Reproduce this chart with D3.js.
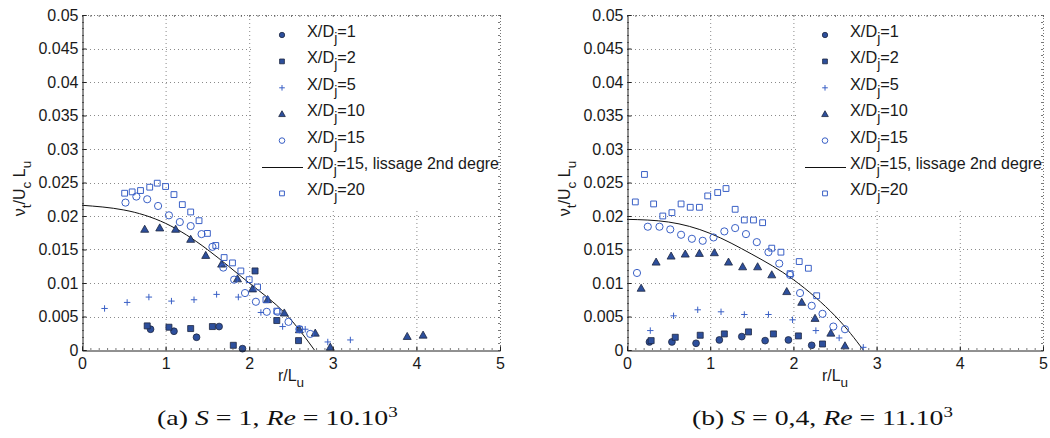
<!DOCTYPE html>
<html>
<head>
<meta charset="utf-8">
<script src="https://cdn.jsdelivr.net/npm/d3@7"></script>
<style>
  body { margin: 0; background: #fff; }
  svg { display: block; }
</style>
</head>
<body>
<svg id="fig" width="1050" height="438"></svg>
<script>
// ---- axis ticks ----
const xTicks = [0, 1, 2, 3, 4, 5];
const xTickLabels = ["0", "1", "2", "3", "4", "5"];
const yTicks = [0, 0.005, 0.01, 0.015, 0.02, 0.025, 0.03, 0.035, 0.04, 0.045, 0.05];
const yTickLabels = ["0", "0.005", "0.01", "0.015", "0.02", "0.025", "0.03", "0.035", "0.04", "0.045", "0.05"];

// ---- legend entries (X/D_j = ...) ----
const legendValues = ["1", "2", "5", "10", "15", "15, lissage 2nd degre", "20"];

// ---- panel (a): S = 1, Re = 10.10^3  — [r/Lu, nu_t/(Uc Lu)] ----
const a_xd1 = [[0.82,0.0031],[1.10,0.0028],[1.37,0.0019],[1.64,0.0035],[1.92,0.0002]];
const a_xd2 = [[0.78,0.0036],[1.04,0.0034],[1.30,0.0032],[1.56,0.0035],[1.81,0.0007],[2.07,0.0118],[2.33,0.0044],[2.59,0.0014]];
const a_xd5 = [[0.27,0.0062],[0.54,0.0071],[0.80,0.0079],[1.07,0.0073],[1.34,0.0075],[1.61,0.0083],[1.87,0.0079],[2.14,0.0056],[2.40,0.0035],[2.67,0.0031],[2.94,0.0012],[3.21,0.0015]];
const a_xd10 = [[0.75,0.0180],[0.93,0.0182],[1.12,0.0180],[1.30,0.0165],[1.48,0.0141],[1.67,0.0128],[1.86,0.0106],[2.04,0.0091],[2.22,0.0075],[2.42,0.0055],[2.60,0.0030],[2.79,0.0025],[2.97,0.0004],[3.89,0.0020],[4.08,0.0022]];
const a_xd15 = [[0.52,0.0220],[0.65,0.0229],[0.78,0.0225],[0.91,0.0215],[1.04,0.0201],[1.17,0.0191],[1.30,0.0185],[1.43,0.0173],[1.56,0.0154],[1.69,0.0123],[1.82,0.0105],[1.95,0.0085],[2.08,0.0072],[2.21,0.0057],[2.34,0.0057],[2.47,0.0042],[2.60,0.0031],[2.73,0.0024]];
const a_fit15 = [[0,0.0216],[0.5,0.0209],[1,0.0189],[1.5,0.0150],[2,0.0100],[2.42,0.0056],[2.78,0]];
const a_xd20 = [[0.51,0.0234],[0.60,0.0236],[0.70,0.0238],[0.81,0.0243],[0.90,0.0249],[1.00,0.0244],[1.10,0.0232],[1.20,0.0217],[1.30,0.0206],[1.40,0.0193],[1.50,0.0174],[1.60,0.0156],[1.70,0.0138],[1.80,0.0130],[1.90,0.0118],[2.00,0.0105],[2.10,0.0094],[2.20,0.0075],[2.33,0.0058],[2.60,0.0031]];

// ---- panel (b): S = 0,4, Re = 11.10^3 ----
const b_xd1 = [[0.27,0.0012],[0.54,0.0012],[0.83,0.0010],[1.11,0.0015],[1.38,0.0020],[1.66,0.0014],[1.94,0.0015],[2.22,0.0007]];
const b_xd2 = [[0.29,0.0014],[0.58,0.0019],[0.88,0.0022],[1.17,0.0024],[1.46,0.0027],[1.76,0.0024],[2.06,0.0021],[2.35,0.0009]];
const b_xd5 = [[0.28,0.0029],[0.56,0.0051],[0.85,0.0060],[1.13,0.0057],[1.41,0.0053],[1.70,0.0053],[1.99,0.0045],[2.27,0.0029],[2.55,0.0018],[2.84,0.0004]];
const b_xd10 = [[0.17,0.0092],[0.35,0.0131],[0.53,0.0140],[0.70,0.0143],[0.87,0.0144],[1.05,0.0145],[1.22,0.0131],[1.39,0.0124],[1.57,0.0124],[1.74,0.0112],[1.92,0.0087],[2.10,0.0071],[2.26,0.0047],[2.45,0.0025],[2.62,0.0006]];
const b_xd15 = [[0.12,0.0115],[0.25,0.0184],[0.39,0.0184],[0.52,0.0180],[0.65,0.0172],[0.78,0.0166],[0.91,0.0163],[1.04,0.0168],[1.17,0.0177],[1.30,0.0182],[1.43,0.0173],[1.56,0.0161],[1.70,0.0146],[1.83,0.0129],[1.96,0.0112],[2.08,0.0085],[2.22,0.0066],[2.35,0.0054],[2.48,0.0035],[2.62,0.0031]];
const b_fit15 = [[0,0.0195],[0.5,0.0191],[1,0.0174],[1.5,0.0143],[2,0.0105],[2.5,0.0051],[2.84,0]];
const b_xd20 = [[0.10,0.0221],[0.21,0.0262],[0.32,0.0218],[0.43,0.0200],[0.54,0.0205],[0.65,0.0218],[0.76,0.0213],[0.87,0.0213],[0.97,0.0230],[1.09,0.0235],[1.19,0.0241],[1.30,0.0210],[1.41,0.0194],[1.52,0.0194],[1.63,0.0190],[1.74,0.0152],[1.85,0.0146],[1.96,0.0114],[2.07,0.0132],[2.18,0.0122],[2.28,0.0081]];

// ---- captions: [text, style] ----
const captionA = [["(a) ", ""], ["S", "i"], [" = 1, ", ""], ["Re", "i"], [" = 10.10", ""], ["3", "sup"]];
const captionB = [["(b) ", ""], ["S", "i"], [" = 0,4, ", ""], ["Re", "i"], [" = 11.10", ""], ["3", "sup"]];

// ---- styling ----
const FILL = "#2d4f9c", EDGE = "#1e2740", OPEN = "#3a60c6";
const FONT = "'Liberation Sans', Arial, Helvetica, sans-serif";
const SERIF = "'Liberation Serif', 'Times New Roman', serif";

// marker shapes, size = half-width in px
const symCircle = { draw(c, r) { c.moveTo(r, 0); c.arc(0, 0, r, 0, 2 * Math.PI); } };
const symSquare = { draw(c, r) { c.rect(-r, -r, 2 * r, 2 * r); } };
const symTri = { draw(c, r) { c.moveTo(0, -r * 1.05); c.lineTo(r, r * 0.72); c.lineTo(-r, r * 0.72); c.closePath(); } };
const symPlus = { draw(c, r) { c.moveTo(-r, 0); c.lineTo(r, 0); c.moveTo(0, -r); c.lineTo(0, r); } };

const styles = [
  { type: symCircle, size: 3.4, leg: 2.7, fill: FILL, stroke: EDGE, sw: 0.8 },
  { type: symSquare, size: 3.0, leg: 2.4, fill: FILL, stroke: EDGE, sw: 0.8 },
  { type: symPlus,   size: 3.2, leg: 2.8, fill: "none", stroke: OPEN, sw: 1 },
  { type: symTri,    size: 4.0, leg: 3.3, fill: FILL, stroke: EDGE, sw: 0.8 },
  { type: symCircle, size: 3.6, leg: 2.8, fill: "none", stroke: OPEN, sw: 1 },
  null,
  { type: symSquare, size: 2.9, leg: 2.4, fill: "none", stroke: OPEN, sw: 1 }
];

const svg = d3.select("#fig");
svg.append("rect").attr("width", 1050).attr("height", 438).attr("fill", "#fff");

function subText(sel, parts, subDy, subSize) {
  // parts: array of [text, isSub]
  let shifted = false;
  parts.forEach(([t, sub]) => {
    const ts = sel.append("tspan").text(t);
    if (sub && !shifted) { ts.attr("dy", subDy).attr("font-size", subSize); shifted = true; }
    else if (!sub && shifted) { ts.attr("dy", -subDy); shifted = false; }
    else if (sub) { ts.attr("font-size", subSize); }
  });
}

// caption set in a serif face, stretched horizontally to span [x0, x1]
function drawCaption(pieces, x0, x1) {
  const g = svg.append("g");
  const t = g.append("text").attr("x", 0).attr("y", 0)
    .attr("font-family", SERIF).attr("font-size", 22).attr("fill", "#111")
    .attr("xml:space", "preserve").style("white-space", "pre");
  pieces.forEach(([txt, st]) => {
    const ts = t.append("tspan").text(txt);
    if (st === "i") ts.attr("font-style", "italic");
    if (st === "sup") ts.attr("dy", -8).attr("font-size", 15);
  });
  const w = t.node().getComputedTextLength();
  g.attr("transform", `translate(${x0},425) scale(${(x1 - x0) / w},1)`);
}

function drawPanel(cfg) {
  const { left, right, top, bottom, series, fit, id } = cfg;
  const x = d3.scaleLinear().domain([0, 5]).range([left, right]);
  const y = d3.scaleLinear().domain([0, 0.05]).range([bottom, top]);
  const g = svg.append("g");

  // dotted grid
  g.append("g").selectAll("line").data(xTicks.slice(1, -1)).join("line")
    .attr("x1", d => x(d) + 0.5).attr("x2", d => x(d) + 0.5)
    .attr("y1", top).attr("y2", bottom)
    .attr("stroke", "#8a8a8a").attr("stroke-width", 1).attr("stroke-dasharray", "1,3");
  g.append("g").selectAll("line").data(yTicks.slice(1, -1)).join("line")
    .attr("x1", left).attr("x2", right)
    .attr("y1", d => Math.round(y(d)) + 0.5).attr("y2", d => Math.round(y(d)) + 0.5)
    .attr("stroke", "#8a8a8a").attr("stroke-width", 1).attr("stroke-dasharray", "1,3");

  // clip to plotting area
  svg.append("clipPath").attr("id", "clip" + id)
    .append("rect").attr("x", left).attr("y", top - 6).attr("width", right - left).attr("height", bottom - top + 12);

  const plot = g.append("g").attr("clip-path", `url(#clip${id})`);

  // fitted profile
  plot.append("path").datum(fit)
    .attr("d", d3.line().x(d => x(d[0])).y(d => y(d[1])).curve(d3.curveNatural))
    .attr("fill", "none").attr("stroke", "#111").attr("stroke-width", 1);

  // data markers
  series.forEach((s, i) => {
    if (!s) return;
    const st = styles[i];
    plot.append("g").selectAll("path").data(s).join("path")
      .attr("transform", d => `translate(${x(d[0])},${y(d[1])})`)
      .attr("d", d3.symbol().type(st.type).size(st.size))
      .attr("fill", st.fill).attr("stroke", st.stroke).attr("stroke-width", st.sw);
  });

  // legend
  const leg = g.append("g");
  leg.append("rect").attr("x", right - 246).attr("y", top + 4).attr("width", 245).attr("height", 189).attr("fill", "#fff");
  const rowY = i => top + 20 + i * 26.4;
  const textX = right - 193;
  legendValues.forEach((v, i) => {
    const yy = rowY(i);
    const st = styles[i];
    if (st) {
      leg.append("path").attr("transform", `translate(${right - 218},${yy})`)
        .attr("d", d3.symbol().type(st.type).size(st.leg))
        .attr("fill", st.fill).attr("stroke", st.stroke).attr("stroke-width", st.sw);
    } else {
      leg.append("line").attr("x1", right - 238).attr("x2", right - 197)
        .attr("y1", yy + 0.5).attr("y2", yy + 0.5).attr("stroke", "#111").attr("stroke-width", 1);
    }
    const t = leg.append("text").attr("x", textX).attr("y", yy + 2)
      .attr("font-family", FONT).attr("font-size", 16.3).attr("fill", "#1a1a1a");
    subText(t, [["X/D", false], ["j", true], ["=" + v, false]], 6, 14);
    // keep the longest entry inside the axes box
    const w = t.node().getComputedTextLength();
    if (textX + w > right - 1) t.attr("textLength", right - 1 - textX).attr("lengthAdjust", "spacingAndGlyphs");
  });

  // box: top and right edges light
  g.append("line").attr("x1", left).attr("x2", right).attr("y1", top + 0.5).attr("y2", top + 0.5)
    .attr("stroke", "#777").attr("stroke-dasharray", "1,2");
  g.append("line").attr("x1", right + 0.5).attr("x2", right + 0.5).attr("y1", top).attr("y2", bottom)
    .attr("stroke", "#777").attr("stroke-dasharray", "1,2");

  // minor ticks
  const mx = d3.range(0, 50.5, 1).map(k => k / 10);
  const my = d3.range(0, 50.5, 1).map(k => k / 1000);
  const minor = g.append("g").attr("stroke", "#555").attr("stroke-width", 0.8);
  minor.selectAll(".mxb").data(mx).join("line")
    .attr("x1", d => x(d) + 0.5).attr("x2", d => x(d) + 0.5).attr("y1", bottom).attr("y2", bottom - 2);
  minor.selectAll(".mxt").data(mx).join("line")
    .attr("x1", d => x(d) + 0.5).attr("x2", d => x(d) + 0.5).attr("y1", top).attr("y2", top + 2);
  minor.selectAll(".myl").data(my).join("line")
    .attr("y1", d => Math.round(y(d)) + 0.5).attr("y2", d => Math.round(y(d)) + 0.5).attr("x1", left).attr("x2", left + 2);
  minor.selectAll(".myr").data(my).join("line")
    .attr("y1", d => Math.round(y(d)) + 0.5).attr("y2", d => Math.round(y(d)) + 0.5).attr("x1", right).attr("x2", right - 2);

  // axes
  const ax = g.append("g").attr("transform", `translate(0,${bottom + 0.5})`)
    .call(d3.axisBottom(x).tickValues(xTicks).tickFormat((d, i) => xTickLabels[i]).tickSize(-4).tickPadding(7));
  const ay = g.append("g").attr("transform", `translate(${left + 0.5},0)`)
    .call(d3.axisLeft(y).tickValues(yTicks).tickFormat((d, i) => yTickLabels[i]).tickSize(-4).tickPadding(4));
  [ax, ay].forEach(a => {
    a.selectAll("path.domain").attr("stroke", "#222");
    a.selectAll(".tick line").attr("stroke", "#222");
    a.selectAll("text").attr("font-family", FONT).attr("font-size", 16).attr("fill", "#1a1a1a");
  });

  // axis titles
  const xt = g.append("text").attr("x", x(2.5)).attr("y", bottom + 31).attr("text-anchor", "middle")
    .attr("font-family", FONT).attr("font-size", 16).attr("fill", "#1a1a1a");
  subText(xt, [["r/L", false], ["u", true]], 6, 13.5);

  const yt = g.append("text").attr("transform", `translate(${left - 57},${(top + bottom) / 2 + 6}) rotate(-90)`)
    .attr("text-anchor", "middle").attr("font-family", FONT).attr("font-size", 16).attr("fill", "#1a1a1a");
  subText(yt, [["ν", false], ["t", true], ["/U", false], ["c", true], [" L", false], ["u", true]], 6, 13.5);
}

drawPanel({ id: "a", left: 82, right: 500, top: 15, bottom: 350,
  series: [a_xd1, a_xd2, a_xd5, a_xd10, a_xd15, null, a_xd20], fit: a_fit15 });
drawPanel({ id: "b", left: 627, right: 1043, top: 15, bottom: 350,
  series: [b_xd1, b_xd2, b_xd5, b_xd10, b_xd15, null, b_xd20], fit: b_fit15 });

drawCaption(captionA, 157, 398);
drawCaption(captionB, 692, 953);
</script>
</body>
</html>
